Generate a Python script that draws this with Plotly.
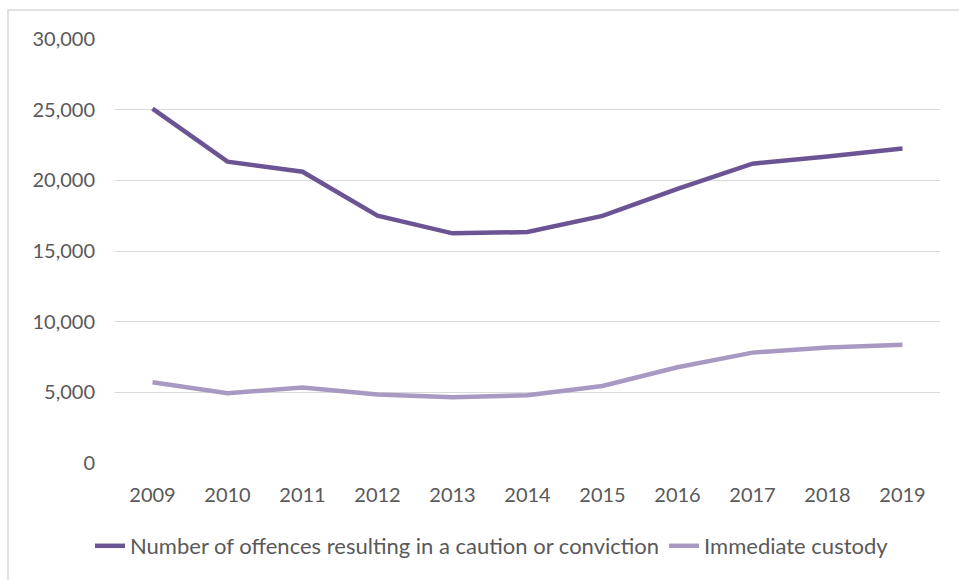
import plotly.graph_objects as go

years = ["2009", "2010", "2011", "2012", "2013", "2014", "2015", "2016", "2017", "2018", "2019"]
offences = [25070, 21320, 20610, 17500, 16250, 16340, 17480, 19390, 21180, 21680, 22260]
custody = [5710, 4930, 5350, 4840, 4650, 4790, 5450, 6770, 7810, 8180, 8370]
tick_vals = [0, 5000, 10000, 15000, 20000, 25000, 30000]
tick_text = ["0", "5,000", "10,000", "15,000", "20,000", "25,000", "30,000"]

W, H = 959, 580
ML, MR, MT, MB = 115, 19, 39, 117
pw, ph = W - ML - MR, H - MT - MB

fig = go.Figure()
fig.add_trace(go.Scatter(x=years, y=offences, mode="lines",
                         name="Number of offences resulting in a caution or conviction",
                         line=dict(color="#6b5494", width=4.5)))
fig.add_trace(go.Scatter(x=years, y=custody, mode="lines",
                         name="Immediate custody",
                         line=dict(color="#a899c3", width=4.5)))

fig.update_layout(
    width=W, height=H,
    margin=dict(l=ML, r=MR, t=MT, b=MB),
    paper_bgcolor="white", plot_bgcolor="white",
    font=dict(family="Lato, 'Open Sans', sans-serif", size=20, color="#595959"),
    showlegend=True,
    legend=dict(orientation="h", x=(492 - ML) / pw, xanchor="center",
                y=-(546 - 463) / ph, yanchor="middle",
                font=dict(size=22, color="#595959"), itemwidth=30, tracegroupgap=0),
    xaxis=dict(type="category", showgrid=False, showline=False, zeroline=False,
               ticks="", ticklabelstandoff=18, range=[-0.5, 10.5]),
    yaxis=dict(range=[0, 30000], tickvals=tick_vals, ticktext=tick_text,
               showgrid=True, gridcolor="#d9d9d9", gridwidth=1.3, zeroline=False,
               showline=False, ticks="", ticklabelstandoff=19),
    shapes=[dict(type="rect", xref="paper", yref="paper",
                 x0=(8 - ML) / pw, x1=(W + 5 - ML) / pw,
                 y0=-(H + 5 - MT - ph) / ph, y1=1 + (MT - 10) / ph,
                 line=dict(color="#d9d9d9", width=1.5), fillcolor="rgba(0,0,0,0)",
                 layer="below")],
)

fig.write_html("out.html", config={"displayModeBar": False},
               post_script="document.body.style.margin='0';document.body.style.padding='0';")
